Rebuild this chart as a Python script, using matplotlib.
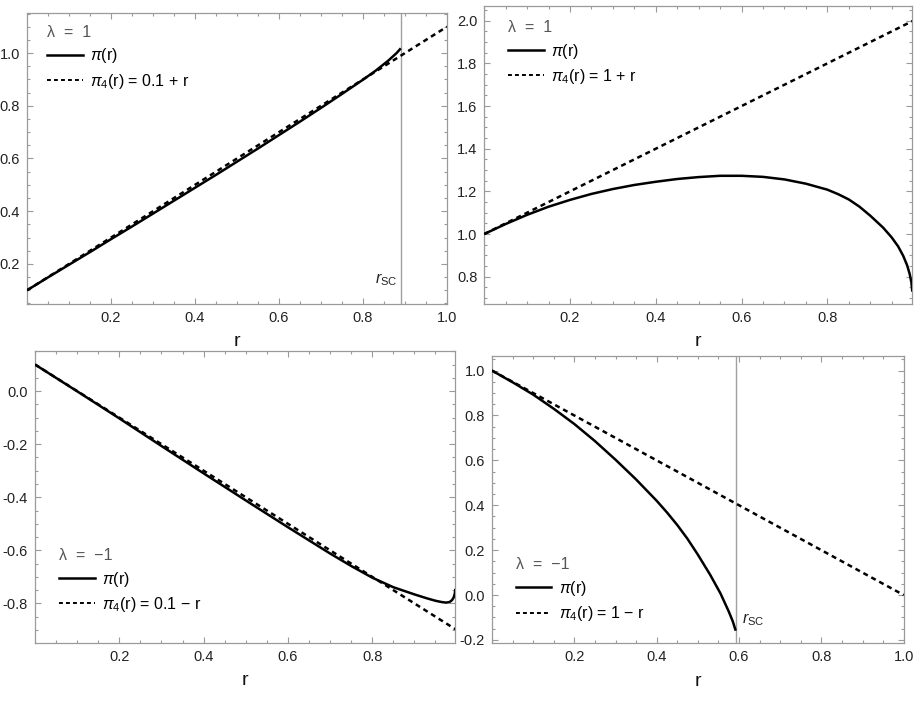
import matplotlib
matplotlib.use("Agg")
import matplotlib.pyplot as plt
from matplotlib.ticker import FixedLocator, MultipleLocator, FormatStrFormatter
from matplotlib.lines import Line2D

plt.rcParams['font.family'] = ['Liberation Sans', 'DejaVu Sans']
plt.rcParams['mathtext.fontset'] = 'custom'
plt.rcParams['mathtext.rm'] = 'Liberation Sans'
plt.rcParams['mathtext.it'] = 'Liberation Sans:italic'

# ---------------- data ----------------
# Panel 1: lambda = 1, pi4 = 0.1 + r
r1 = [0, 0.05, 0.1, 0.15, 0.2, 0.25, 0.3, 0.35, 0.4, 0.45, 0.5, 0.55, 0.6,
      0.65, 0.7, 0.75, 0.8, 0.83, 0.86, 0.88, 0.89]
pi1 = [0.1, 0.149, 0.197, 0.245, 0.294, 0.342, 0.391, 0.44, 0.489, 0.538, 0.588,
       0.638, 0.689, 0.74, 0.792, 0.845, 0.899, 0.933, 0.971, 1.0, 1.018]
lin1_r = [0.0, 1.0]
lin1_v = [0.1, 1.1]
rsc1 = 0.89

# Panel 2: lambda = 1, pi4 = 1 + r
r2 = [0, 0.05, 0.1, 0.15, 0.2, 0.25, 0.3, 0.35, 0.4, 0.45, 0.5, 0.55, 0.6, 0.65,
      0.7, 0.75, 0.8, 0.825, 0.85, 0.875, 0.9, 0.93, 0.95, 0.965, 0.977, 0.986,
      0.992, 0.996, 0.998]
pi2 = [1.0, 1.047, 1.09, 1.128, 1.16, 1.188, 1.211, 1.23, 1.245, 1.258, 1.267, 1.273,
       1.273, 1.268, 1.256, 1.236, 1.208, 1.187, 1.162, 1.128, 1.086, 1.03, 0.984,
       0.942, 0.897, 0.853, 0.812, 0.772, 0.73]
lin2_r = [0.0, 0.998]
lin2_v = [1.0, 1.998]

# Panel 3: lambda = -1, pi4 = 0.1 - r
r3 = [0, 0.1, 0.2, 0.3, 0.4, 0.5, 0.6, 0.7, 0.75, 0.8, 0.85, 0.9, 0.93, 0.95,
      0.965, 0.975, 0.983, 0.989, 0.993, 0.996, 0.997]
pi3 = [0.1, -0.001, -0.103, -0.207, -0.31, -0.412, -0.513, -0.612, -0.659, -0.703,
       -0.739, -0.766, -0.781, -0.79, -0.795, -0.797, -0.795, -0.788, -0.778,
       -0.762, -0.745]
lin3_r = [0.0, 0.997]
lin3_v = [0.1, -0.897]

# Panel 4: lambda = -1, pi4 = 1 - r
r4 = [0, 0.05, 0.1, 0.15, 0.2, 0.25, 0.3, 0.35, 0.4, 0.425, 0.45, 0.475, 0.5,
      0.53, 0.555, 0.575, 0.585, 0.592]
pi4 = [1.0, 0.948, 0.893, 0.83, 0.762, 0.686, 0.603, 0.515, 0.42, 0.368, 0.312,
       0.25, 0.18, 0.09, 0.007, -0.073, -0.118, -0.159]
lin4_r = [0.0, 1.0]
lin4_v = [1.0, 0.0]
rsc4 = 0.592

MINUS = "\u2212"
lambdas = ["1", "1", MINUS + "1", MINUS + "1"]
lin_labels = [r"$\pi_4$(r) = 0.1 + r", r"$\pi_4$(r) = 1 + r",
              r"$\pi_4$(r) = 0.1 " + MINUS + " r", r"$\pi_4$(r) = 1 " + MINUS + " r"]

xticks = [[0.2, 0.4, 0.6, 0.8, 1.0], [0.2, 0.4, 0.6, 0.8],
          [0.2, 0.4, 0.6, 0.8], [0.2, 0.4, 0.6, 0.8, 1.0]]
yticks = [[0.2, 0.4, 0.6, 0.8, 1.0], [0.8, 1.0, 1.2, 1.4, 1.6, 1.8, 2.0],
          [-0.8, -0.6, -0.4, -0.2, 0.0], [-0.2, 0.0, 0.2, 0.4, 0.6, 0.8, 1.0]]
xlims = [(0, 1.0), (0, 0.998), (0, 0.997), (0, 1.0)]
ylims = [(0.048, 1.152), (0.672, 2.069), (-0.948, 0.152), (-0.215, 1.065)]

# ---------------- figure ----------------
W, H = 919, 727
fig = plt.figure(figsize=(W / 100, H / 100), dpi=100)

def frac(l, r, t, b):
    return [l / W, 1 - b / H, (r - l) / W, (b - t) / H]

rects = [frac(27, 447, 13, 304), frac(484.2, 912.3, 6, 304),
         frac(35, 455.3, 350.7, 642.7), frac(492, 903.7, 356, 643.3)]

data = [(r1, pi1, lin1_r, lin1_v), (r2, pi2, lin2_r, lin2_v),
        (r3, pi3, lin3_r, lin3_v), (r4, pi4, lin4_r, lin4_v)]

frame_col = '#9a9a9a'
leg_locs = [(0.02, 0.997), (0.03, 0.99), (0.03, 0.362), (0.03, 0.338)]

for i, ax_rect in enumerate(rects):
    ax = fig.add_axes(ax_rect)
    r, p, lr, lv = data[i]
    ax.plot(lr, lv, color='black', lw=1.8, dashes=(2.0, 1.6), zorder=3)
    ax.plot(r, p, color='black', lw=1.8, solid_capstyle='butt', zorder=4)
    ax.set_xlim(*xlims[i])
    ax.set_ylim(*ylims[i])
    ax.xaxis.set_major_locator(FixedLocator(xticks[i]))
    ax.yaxis.set_major_locator(FixedLocator(yticks[i]))
    ax.xaxis.set_minor_locator(MultipleLocator(0.05))
    ax.yaxis.set_minor_locator(MultipleLocator(0.05))
    ax.xaxis.set_major_formatter(FormatStrFormatter('%.1f'))
    ax.yaxis.set_major_formatter(FormatStrFormatter('%.1f'))
    ax.tick_params(which='both', direction='in', top=True, right=True,
                   color=frame_col, width=0.8, labelsize=10.5, labelcolor='#222222')
    ax.tick_params(which='major', length=4.0, pad=5)
    ax.tick_params(which='minor', length=2.0)
    for s in ax.spines.values():
        s.set_color(frame_col)
        s.set_linewidth(0.9)
    ax.set_xlabel('r', fontsize=14, labelpad=6, color='#111111')

    handles = [Line2D([], [], color='black', lw=1.8),
               Line2D([], [], color='black', lw=1.4, dashes=(2.0, 1.6))]
    leg = ax.legend(handles, [r"$\pi$(r)", lin_labels[i]],
                    title="\u03bb  =  " + lambdas[i], loc='upper left',
                    bbox_to_anchor=leg_locs[i], frameon=False, fontsize=11.5,
                    handlelength=2.25, handletextpad=0.45, labelspacing=0.4,
                    alignment='left', borderaxespad=0.3)
    leg.get_title().set_color('#555555')
    leg.get_title().set_fontsize(11.5)

    if i == 0:
        ax.axvline(rsc1, color='#a0a0a0', lw=1.0, zorder=2)
        ax.text(rsc1 - 0.008, 0.14, r"$r_{\mathrm{SC}}$", ha='right', va='center',
                fontsize=11.5, color='#222222')
    if i == 3:
        ax.axvline(rsc4, color='#a0a0a0', lw=1.0, zorder=2)
        ax.text(rsc4 + 0.015, -0.11, r"$r_{\mathrm{SC}}$", ha='left', va='center',
                fontsize=11.5, color='#222222')

fig.savefig('out.png', dpi=100)
